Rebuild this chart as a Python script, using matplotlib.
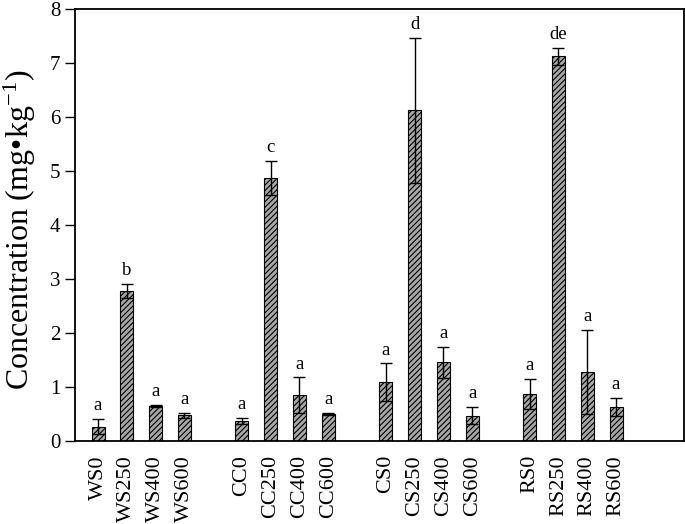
import numpy as np
import matplotlib
matplotlib.use('Agg')
from matplotlib import pyplot as plt

plt.rcParams['font.family'] = ['Liberation Serif', 'DejaVu Serif']
plt.rcParams['mathtext.fontset'] = 'stix'
plt.rcParams['hatch.linewidth'] = 0.8

labels = ['WS0', 'WS250', 'WS400', 'WS600',
          'CC0', 'CC250', 'CC400', 'CC600',
          'CS0', 'CS250', 'CS400', 'CS600',
          'RS0', 'RS250', 'RS400', 'RS600']
means = [0.27, 2.78, 0.65, 0.48,
         0.37, 4.87, 0.85, 0.50,
         1.09, 6.12, 1.46, 0.47,
         0.88, 7.12, 1.28, 0.63]
errors = [0.14, 0.13, 0.02, 0.05,
          0.06, 0.32, 0.33, 0.02,
          0.35, 1.34, 0.29, 0.16,
          0.28, 0.15, 0.78, 0.17]
letters = ['a', 'b', 'a', 'a',
           'a', 'c', 'a', 'a',
           'a', 'd', 'a', 'a',
           'a', 'de', 'a', 'a']

# four bars per group, one empty slot between groups
x = np.array([i % 4 + 5 * (i // 4) for i in range(len(labels))])

fig = plt.figure(figsize=(6.85, 5.24), dpi=100)
ax = fig.add_axes([0.1095, 0.158, 0.889, 0.825])

ax.bar(x, means, width=0.45, color='#a8a8a8', edgecolor='black',
       linewidth=0.8, hatch='//////')
ax.errorbar(x, means, yerr=errors, fmt='none', ecolor='black',
            elinewidth=1, capsize=4, capthick=1)

for xi, m, e, t in zip(x, means, errors, letters):
    ax.text(xi, m + e + 0.09, t, ha='center', va='bottom', fontsize=13.5)

ax.set_xlim(-0.8, 20.36)
ax.set_ylim(0, 8)
ax.set_yticks(range(9))
ax.set_xticks(x)
ax.set_xticklabels(labels, rotation=90, fontsize=16)
ax.tick_params(axis='x', length=0, pad=10)
ax.tick_params(axis='y', direction='out', length=7, width=1, labelsize=15)
ax.set_ylabel('Concentration (mg•kg$^{\\mathregular{-1}}$)', fontsize=23)
ax.yaxis.set_label_coords(-0.06, 0.49)
for s in ax.spines.values():
    s.set_linewidth(1.3)

fig.savefig('out.png', dpi=100)
